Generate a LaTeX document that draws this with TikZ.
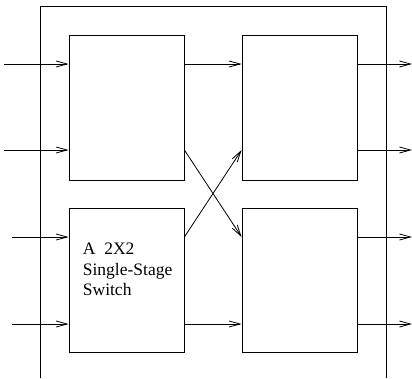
\documentclass[tikz,border=0pt]{standalone}
\usepackage{fontspec}
\setmainfont{Liberation Serif}
\usetikzlibrary{arrows.meta}
\tikzset{
    sw/.style = {draw, minimum width=115pt, minimum height=145pt, inner sep=0pt},
    arr/.style = {-{Straight Barb[length=11pt,width=6pt]}}
}
\begin{document}
\begin{tikzpicture}[x=1pt,y=-1pt,line width=0.8pt]
            \useasboundingbox (0,0) rectangle (412,378);
            \draw[-] (40,378) -- (40,6) -- (386,6) -- (386,378);
            \node[sw] (b1) at (126.5,107.5) {};
            \node[sw] (b2) at (299.5,107.5) {};
            \node[sw, minimum height=144pt] (b3) at (126.5,280) {};
            \node[sw, minimum height=144pt] (b4) at (299.5,280) {};
            \node[
                anchor = north west,
                align = left,
                inner sep = 0pt,
                font = \fontsize{17.5}{20.5}\selectfont
            ] (lbl) at (82.5,243) {A\ \ 2X2\\Single-Stage\\Switch};
            \coordinate (i1) at (4,64);
            \coordinate (i2) at (4,150);
            \coordinate (i3) at (12,237);
            \coordinate (i4) at (12,324);
            \coordinate (o1) at (412,64);
            \coordinate (o2) at (412,150);
            \coordinate (o3) at (412,237);
            \coordinate (o4) at (412,324);
            \draw[arr] (i1) -- (i1 -| b1.west);
            \draw[arr] (i2) -- (i2 -| b1.west);
            \draw[arr] (i3) -- (i3 -| b3.west);
            \draw[arr] (i4) -- (i4 -| b3.west);
            \draw[arr] (i1 -| b1.east) -- (i1 -| b2.west);
            \draw[arr] (i2 -| b1.east) -- (i3 -| b4.west);
            \draw[arr] (i3 -| b3.east) -- (i2 -| b2.west);
            \draw[arr] (i4 -| b3.east) -- (i4 -| b4.west);
            \draw[arr] (i1 -| b2.east) -- (o1);
            \draw[arr] (i2 -| b2.east) -- (o2);
            \draw[arr] (i3 -| b4.east) -- (o3);
            \draw[arr] (i4 -| b4.east) -- (o4);
        \end{tikzpicture}
\end{document}
